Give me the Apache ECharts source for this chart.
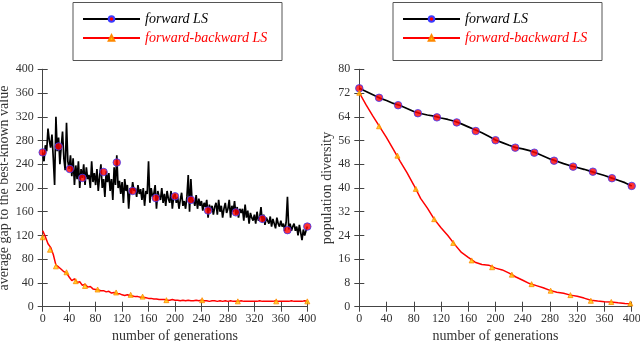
<!DOCTYPE html>
<html>
<head>
<meta charset="utf-8">
<script src="https://cdn.jsdelivr.net/npm/echarts@6/dist/echarts.min.js"></script>
<style>
html, body { margin: 0; padding: 0; background: #fff; }
#chart { width: 640px; height: 341px; }
</style>
</head>
<body>
<div id="chart"></div>
<script>
// left panel: average gap, forward LS, one value every 2 generations
var gapFwd = [
	260, 245, 272, 262, 300, 280, 268, 290, 250, 205,
	320, 262, 285, 240, 270, 295, 250, 230, 310, 245,
	232, 255, 220, 250, 205, 238, 215, 245, 200, 232,
	217, 240, 205, 235, 215, 222, 200, 245, 210, 225,
	205, 232, 195, 220, 240, 200, 215, 185, 228, 210,
	225, 195, 215, 180, 235, 205, 255, 200, 212, 190,
	210, 175, 215, 195, 205, 165, 200, 190, 210, 195,
	200, 185, 205, 190, 198, 180, 200, 170, 195, 190,
	245, 175, 200, 185, 190, 205, 165, 195, 185, 180,
	200, 175, 190, 170, 195, 182, 175, 195, 165, 186,
	190, 175, 185, 165, 180, 192, 170, 178, 165, 185,
	222, 160, 215, 175, 180, 170, 188, 165, 182, 170,
	178, 162, 175, 168, 180, 150, 172, 162, 170, 155,
	168, 175, 155, 180, 160, 170, 150, 165, 175, 158,
	165, 180, 150, 170, 160, 178, 155, 168, 150, 165,
	158, 165, 145, 172, 150, 162, 140, 158, 150, 145,
	155, 140, 160, 145, 150, 168, 142, 155, 138, 150,
	145, 140, 152, 135, 148, 140, 132, 150, 140, 135,
	145, 135, 140, 128, 142, 185, 130, 140, 128, 135,
	140, 128, 135, 120, 138, 125, 112, 130, 120, 128,
	135
];
// left panel: forward-backward LS, one value every 4 generations
var gapFB = [
	128, 118, 106, 100, 88, 70, 67, 63, 59, 57,
	50, 44, 47, 41, 42, 36, 38, 33, 34, 30,
	29, 28, 27, 27, 25, 26, 23, 24, 22, 22,
	20, 19, 20, 19, 18, 17, 17, 16, 16, 15,
	14, 14, 13, 13, 12, 12, 12, 11, 11, 12,
	11, 11, 10, 11, 10, 11, 10, 10, 11, 10,
	11, 10, 10, 9, 10, 10, 9, 10, 9, 10,
	9, 10, 9, 9, 9, 10, 9, 9, 9, 9,
	9, 9, 10, 9, 9, 9, 9, 9, 10, 9,
	9, 9, 9, 9, 10, 9, 9, 9, 9, 10,
	9
];
var gapFwdMarks = [[0,260],[24,270],[41,232],[60,217],[92,227],[112,243],[136,195],[171,183],[200,186],[224,180],[250,162],[292,159],[332,148],[370,129],[400,135]];
var gapFBMarks = [[0,117],[11,96],[20,68],[36,58],[50,43],[64,35],[83,29],[111,24],[133,20],[151,17],[187,11],[241,11],[295,9],[353,9],[400,9]];

// right panel: population diversity, one value every 10 generations
var divFwd = [
	73.6, 72.5, 71.4, 70.3, 69.5, 68.5, 67.8, 66.8, 65.8, 65.1,
	64.6, 64.2, 63.6, 63.1, 62.5, 61.6, 60.6, 59.6, 58.6, 57.4,
	56.2, 55.3, 54.4, 53.6, 53.2, 52.6, 51.8, 50.8, 49.8, 49.0,
	48.2, 47.5, 46.9, 46.3, 45.6, 44.9, 44.2, 43.4, 42.6, 41.8,
	40.7
];
var divFB = [
	72.1, 68.0, 64.2, 60.6, 57.0, 53.0, 49.0, 45.2, 41.0, 36.5,
	33.2, 29.5, 26.6, 24.0, 21.0, 18.3, 16.6, 15.0, 14.2, 14.0,
	13.0, 12.4, 11.3, 10.0, 8.9, 7.8, 7.1, 6.4, 5.5, 4.9,
	4.5, 3.9, 3.5, 2.9, 2.2, 1.9, 1.7, 1.6, 1.3, 1.1,
	1.0
];
var divFwdMarks = [[0,73.6],[29,70.4],[57,67.9],[86,65.2],[114,63.8],[143,62.1],[171,59.2],[200,56.1],[229,53.6],[257,51.9],[286,49.2],[314,47.2],[343,45.5],[371,43.3],[400,40.7]];
var divFBMarks = [[0,72.1],[29,60.8],[56,50.9],[83,39.7],[110,29.5],[138,21.5],[165,15.6],[195,13.3],[224,10.8],[253,7.6],[281,5.4],[310,3.9],[340,2.0],[370,1.6],[398,1.1]];

var NAME_F = 'forward LS';
var NAME_FB = 'forward-backward LS';
var FONT = 'Liberation Serif';
var AXIS_COLOR = '#444';
var TEXT_COLOR = '#333';

function xy(arr, step) {
	return arr.map(function (v, i) { return [i * step, v]; });
}

// legend items; the frame is drawn separately so it has the same size as the original
function legendAt(left) {
	return {
		left: left + 12, top: 12,
		orient: 'vertical',
		itemWidth: 57, itemHeight: 7, itemGap: 5,
		padding: 0,
		textStyle: { fontFamily: FONT, fontStyle: 'italic', fontSize: 14 },
		data: [
			{ name: NAME_F, textStyle: { color: '#000' } },
			{ name: NAME_FB, textStyle: { color: '#ff0000' } }
		]
	};
}
function legendFrame(left) {
	return {
		type: 'rect', left: left, top: 0, z: 100, silent: true,
		shape: { width: 209, height: 58 },
		style: { fill: 'none', stroke: '#555', lineWidth: 1 }
	};
}

function xAxes(grid) {
	var base = {
		type: 'value', gridIndex: grid, min: 0, max: 400, interval: 40,
		axisLine: { show: true, lineStyle: { color: AXIS_COLOR } },
		axisTick: { show: true, inside: true, length: 5, lineStyle: { color: AXIS_COLOR } },
		splitLine: { show: false }
	};
	return [
		Object.assign({}, base, {
			position: 'bottom',
			name: 'number of generations', nameLocation: 'middle', nameGap: 18,
			nameTextStyle: { fontFamily: FONT, fontSize: 14, color: TEXT_COLOR },
			axisLabel: { fontFamily: FONT, fontSize: 12, color: TEXT_COLOR, margin: 6 }
		}),
		Object.assign({}, base, { position: 'top', axisLabel: { show: false } })
	];
}

function yAxes(grid, max, interval, name, gap) {
	var base = {
		type: 'value', gridIndex: grid, min: 0, max: max, interval: interval,
		axisLine: { show: true, lineStyle: { color: AXIS_COLOR } },
		axisTick: { show: true, inside: true, length: 5, lineStyle: { color: AXIS_COLOR } },
		splitLine: { show: false }
	};
	return [
		Object.assign({}, base, {
			position: 'left',
			name: name, nameLocation: 'middle', nameGap: gap,
			nameTextStyle: { fontFamily: FONT, fontSize: 14, color: TEXT_COLOR },
			axisLabel: { fontFamily: FONT, fontSize: 12, color: TEXT_COLOR, margin: 9 }
		}),
		Object.assign({}, base, { position: 'right', axisLabel: { show: false } })
	];
}

function fwdLine(data, x, y) {
	return {
		name: NAME_F, type: 'line', xAxisIndex: x, yAxisIndex: y,
		data: data, showSymbol: false, symbol: 'circle', animation: false,
		lineStyle: { color: '#000', width: 1.7 },
		itemStyle: { color: '#ff0000', borderColor: '#3a3aff', borderWidth: 1 }
	};
}
function fbLine(data, x, y) {
	return {
		name: NAME_FB, type: 'line', xAxisIndex: x, yAxisIndex: y,
		data: data, showSymbol: false, symbol: 'triangle', animation: false,
		lineStyle: { color: '#ff0000', width: 1.5 },
		itemStyle: { color: '#ffcc00', borderColor: '#ff8800', borderWidth: 1 }
	};
}
function fwdMarks(data, x, y) {
	return {
		name: NAME_F, type: 'scatter', xAxisIndex: x, yAxisIndex: y,
		data: data, symbol: 'circle', symbolSize: 7.5, animation: false, z: 5,
		itemStyle: { color: '#ff0000', borderColor: '#3a3aff', borderWidth: 1 }
	};
}
function fbMarks(data, x, y) {
	return {
		name: NAME_FB, type: 'scatter', xAxisIndex: x, yAxisIndex: y,
		data: data, symbol: 'triangle', symbolSize: 5, animation: false, z: 5,
		itemStyle: { color: '#ffcc00', borderColor: '#ff8800', borderWidth: 1 }
	};
}

var option = {
	backgroundColor: '#fff',
	animation: false,
	legend: [legendAt(70), legendAt(390)],
	graphic: [legendFrame(70.5), legendFrame(390.5)],
	grid: [
		{ left: 42.7, right: 332.7, top: 69.3, bottom: 34.3, outerBoundsMode: 'none', containLabel: false },
		{ left: 359.3, right: 8.3, top: 69.3, bottom: 34.3, outerBoundsMode: 'none', containLabel: false }
	],
	xAxis: xAxes(0).concat(xAxes(1)),
	yAxis: yAxes(0, 400, 40, 'average gap to the best-known value', 29)
		.concat(yAxes(1, 80, 8, 'population diversity', 24)),
	series: [
		fwdLine(xy(gapFwd, 2), 0, 0),
		fbLine(xy(gapFB, 4), 0, 0),
		fwdMarks(gapFwdMarks, 0, 0),
		fbMarks(gapFBMarks, 0, 0),
		fwdLine(xy(divFwd, 10), 2, 2),
		fbLine(xy(divFB, 10), 2, 2),
		fwdMarks(divFwdMarks, 2, 2),
		fbMarks(divFBMarks, 2, 2)
	]
};

echarts.init(document.getElementById('chart')).setOption(option);
</script>
</body>
</html>
